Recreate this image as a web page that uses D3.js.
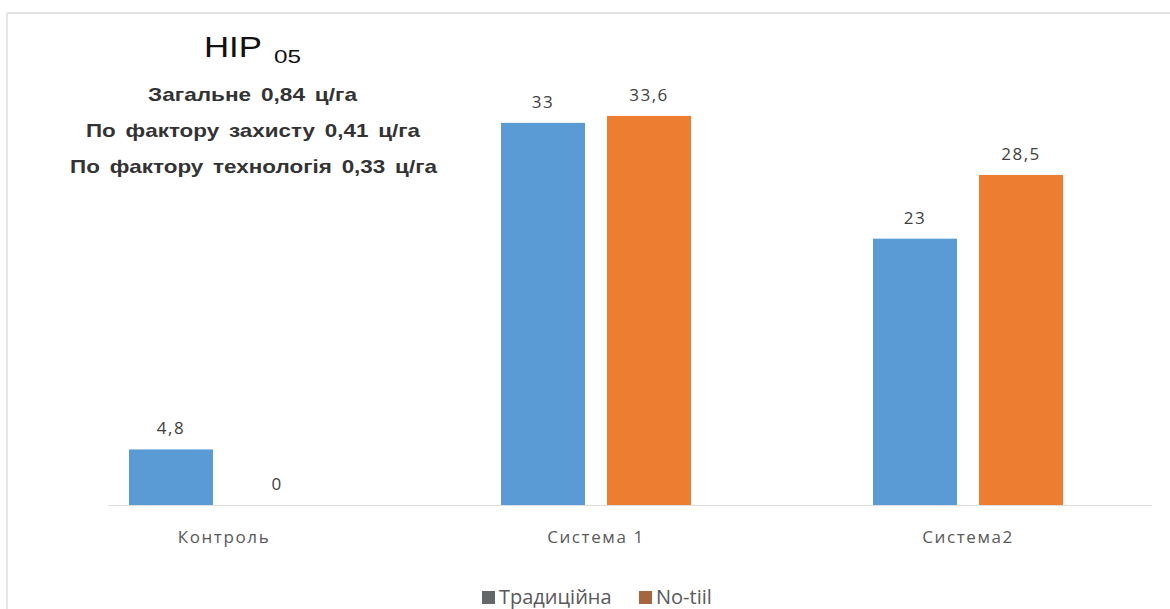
<!DOCTYPE html>
<html><head><meta charset="utf-8">
<script src="https://cdn.jsdelivr.net/npm/d3@7"></script>
<style>body{margin:0;background:#fff}svg{display:block}</style>
</head><body>
<svg id="c" width="1170" height="609"></svg>
<script>
const categories = ["Контроль", "Система 1", "Система2"];
const seriesNames = ["Традиційна", "No-tiil"];
const traditional = [4.8, 33, 23];
const notill = [0, 33.6, 28.5];
const labelsTrad = ["4,8", "33", "23"];
const labelsNotill = ["0", "33,6", "28,5"];
const hirTitle = "HIP";
const hirSub = "05";
const hirLines = ["Загальне 0,84 ц/га", "По фактору захисту 0,41 ц/га", "По фактору технологія 0,33 ц/га"];

const barColors = ["#5b9bd5", "#ed7d31"];
const legendColors = ["#636768", "#a5663f"];

const svg = d3.select("#c");
// frame (scan edge)
svg.append("line").attr("x1",7).attr("x2",1170).attr("y1",13).attr("y2",13).attr("stroke","#d8d8d8").attr("stroke-width",1.5);
svg.append("line").attr("x1",7).attr("x2",7).attr("y1",13).attr("y2",609).attr("stroke","#dcdcdc").attr("stroke-width",1.5);

const x0 = d3.scaleBand().domain(categories).range([38, 1154]);
const x1 = d3.scaleBand().domain(seriesNames).range([-95, 95]).paddingInner(0.2075);
const y = d3.scaleLinear().domain([0, 35]).range([505, 505 - 35*11.58]);

const data = categories.map((c,i)=>({c, vals:[traditional[i], notill[i]], labs:[labelsTrad[i], labelsNotill[i]]}));

// baseline
svg.append("line").attr("x1",108).attr("x2",1152).attr("y1",y(0)+0.5).attr("y2",y(0)+0.5).attr("stroke","#dedede").attr("stroke-width",1);

const g = svg.selectAll("g.cat").data(data).join("g").attr("class","cat")
  .attr("transform", d=>`translate(${x0(d.c)+x0.bandwidth()/2},0)`);
g.selectAll("rect").data(d=>d.vals.map((v,j)=>({v,j}))).join("rect")
  .attr("x", d=>x1(seriesNames[d.j])).attr("width", x1.bandwidth())
  .attr("y", d=>y(d.v)).attr("height", d=>y(0)-y(d.v))
  .attr("fill", d=>barColors[d.j]);
g.selectAll("text.val").data(d=>d.vals.map((v,j)=>({v,j,l:d.labs[j]}))).join("text").attr("class","val")
  .attr("x", d=>x1(seriesNames[d.j])+x1.bandwidth()/2)
  .attr("y", d=>y(d.v)-15)
  .attr("text-anchor","middle").attr("font-family","'Open Sans', sans-serif").attr("font-size",17)
  .attr("letter-spacing",1.5)
  .attr("fill","#404040").text(d=>d.l);

// category axis labels
svg.selectAll("text.cat").data(categories).join("text").attr("class","cat")
  .attr("x", d=>x0(d)+x0.bandwidth()/2).attr("y",543)
  .attr("text-anchor","middle").attr("font-family","'Open Sans', sans-serif").attr("font-size",17)
  .attr("letter-spacing",1.6)
  .attr("fill","#595959").text(d=>d);

// HIP annotation
svg.append("text").attr("x",204).attr("y",57).attr("font-family","'Liberation Sans', Arial, sans-serif")
  .attr("font-size",30).attr("textLength",58).attr("lengthAdjust","spacingAndGlyphs").attr("fill","#111").text(hirTitle);
svg.append("text").attr("x",274).attr("y",63).attr("font-family","'Liberation Sans', Arial, sans-serif")
  .attr("font-size",18).attr("textLength",27).attr("lengthAdjust","spacingAndGlyphs").attr("fill","#111").text(hirSub);
const lineSpec = [{y:101, x1:148, x2:357},{y:137, x1:86, x2:420},{y:173, x1:70, x2:437}];
svg.selectAll("text.hir").data(hirLines).join("text").attr("class","hir")
  .attr("x",(d,i)=>lineSpec[i].x1).attr("y",(d,i)=>lineSpec[i].y)
  .attr("textLength",(d,i)=>lineSpec[i].x2-lineSpec[i].x1).attr("lengthAdjust","spacingAndGlyphs")
  .attr("font-family","'Liberation Sans', Arial, sans-serif").attr("font-size",19).attr("font-weight","bold")
  .attr("word-spacing",3)
  .attr("fill","#333").text(d=>d);

// legend
const legX = [482, 639];
const lg = svg.selectAll("g.leg").data(seriesNames).join("g").attr("class","leg")
  .attr("transform",(d,i)=>`translate(${legX[i]},0)`);
lg.append("rect").attr("x",0).attr("y",591).attr("width",13).attr("height",13).attr("fill",(d,i)=>legendColors[i]);
lg.append("text").attr("x",17).attr("y",604).attr("font-family","'Open Sans', sans-serif").attr("font-size",20)
  .attr("fill","#595959").text(d=>d);
</script>
</body></html>
